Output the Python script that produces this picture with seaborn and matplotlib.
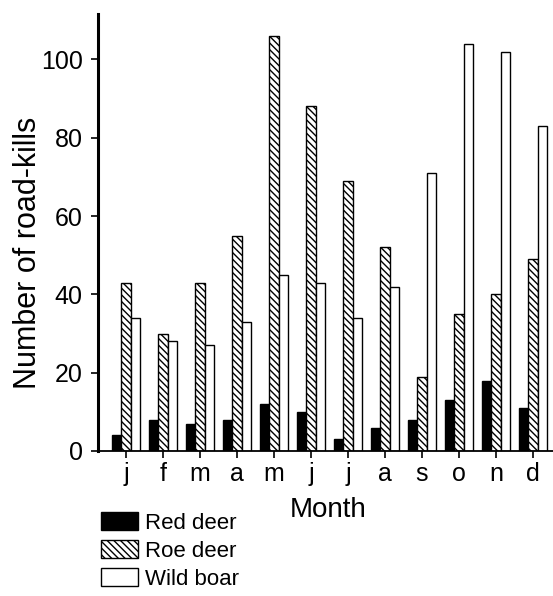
import matplotlib
matplotlib.use("Agg")
import matplotlib.pyplot as plt
from matplotlib.patches import Patch
import seaborn as sns
import pandas as pd

# Monthly road-kill counts per species
months = ["j", "f", "m", "a", "m", "j", "j", "a", "s", "o", "n", "d"]
species = ["Red deer", "Roe deer", "Wild boar"]
red_deer = [4, 8, 7, 8, 12, 10, 3, 6, 8, 13, 18, 11]
roe_deer = [43, 30, 43, 55, 106, 88, 69, 52, 19, 35, 40, 49]
wild_boar = [34, 28, 27, 33, 45, 43, 34, 42, 71, 104, 102, 83]
y_ticks = [0, 20, 40, 60, 80, 100]

sns.set_theme(style="white")
plt.rcParams["font.family"] = ["Liberation Sans", "DejaVu Sans"]
plt.rcParams["hatch.linewidth"] = 1.0
plt.rcParams["text.color"] = "black"

rows = []
for i in range(len(months)):
    for name, vals in zip(species, [red_deer, roe_deer, wild_boar]):
        rows.append({"month": i, "species": name, "count": vals[i]})
df = pd.DataFrame(rows)

fig = plt.figure(figsize=(5.53, 5.96), dpi=100)
ax = fig.add_axes([98 / 553, 1 - 451 / 596, 1 - 98 / 553, (451 - 14) / 596])

palette = {"Red deer": "black", "Roe deer": "white", "Wild boar": "white"}
sns.barplot(data=df, x="month", y="count", hue="species", hue_order=species,
            palette=palette, width=0.76, gap=0, saturation=1,
            edgecolor="black", linewidth=1.0, legend=False, ax=ax)

hatch = "\\\\\\\\\\"
for bar in ax.containers[1]:
    bar.set_hatch(hatch)

ax.set_xlim(-0.757, 11.54)
ax.set_ylim(0, 111.6)
ax.set_yticks(y_ticks)
ax.set_yticklabels([str(v) for v in y_ticks], fontsize=18)
ax.set_xticks(range(len(months)))
ax.set_xticklabels(months, fontsize=18)

for side in ["top", "right"]:
    ax.spines[side].set_visible(False)
ax.spines["left"].set_linewidth(2.2)
ax.spines["bottom"].set_linewidth(1.3)
for side in ["left", "bottom"]:
    ax.spines[side].set_color("black")

ax.tick_params(axis="y", direction="out", length=5, width=1.2, pad=6, left=True, colors="black")
ax.tick_params(axis="x", direction="out", length=5, width=1.2, pad=3, bottom=True, colors="black")

ax.set_xlabel("Month", fontsize=20, color="black", va="center")
ax.xaxis.set_label_coords((328 - 98) / 455, (451 - 510) / 437)
ax.set_ylabel("Number of road-kills", fontsize=22, color="black", va="center")
ax.yaxis.set_label_coords((28 - 98) / 455, (451 - 253) / 437)

handles = [
    Patch(facecolor="black", edgecolor="black", linewidth=1.0, label="Red deer"),
    Patch(facecolor="white", edgecolor="black", linewidth=1.0, hatch=hatch, label="Roe deer"),
    Patch(facecolor="white", edgecolor="black", linewidth=1.0, label="Wild boar"),
]
fig.legend(handles=handles, loc="upper left", bbox_to_anchor=(101 / 553, 1 - 512 / 596),
           frameon=False, fontsize=16, labelcolor="black", handlelength=1.67,
           handleheight=0.85, handletextpad=0.32, labelspacing=0.3,
           borderpad=0, borderaxespad=0)

fig.savefig("out.png", dpi=100, facecolor="white")
